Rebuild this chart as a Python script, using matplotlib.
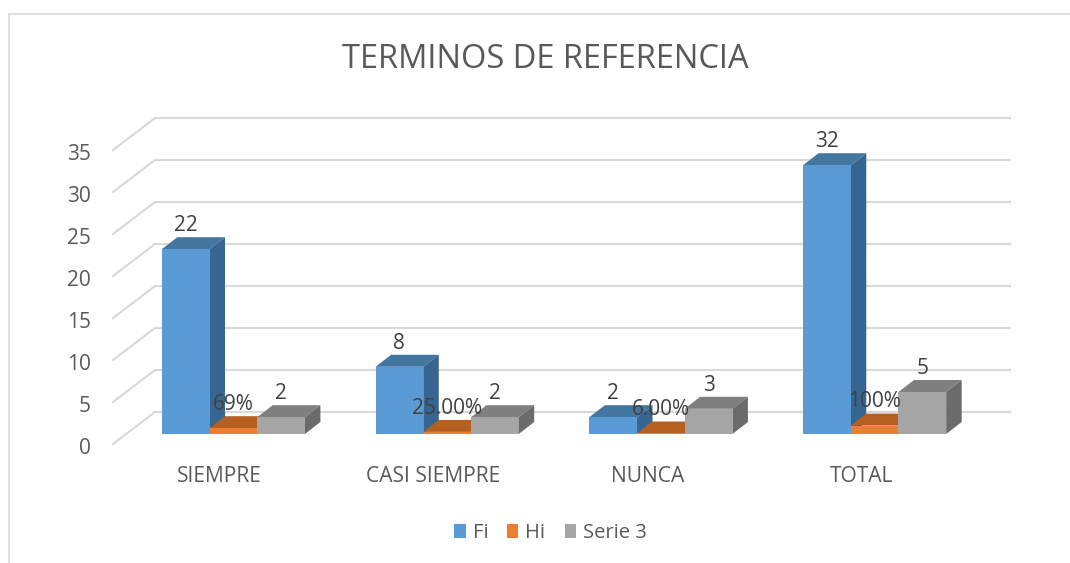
import matplotlib
matplotlib.use("Agg")
import matplotlib.pyplot as plt
from matplotlib.patches import Patch
from matplotlib.lines import Line2D
from matplotlib.transforms import ScaledTranslation

categories = ["SIEMPRE", "CASI SIEMPRE", "NUNCA", "TOTAL"]
fi = [22, 8, 2, 32]
hi = [0.69, 0.25, 0.06, 1.00]
serie3 = [2, 2, 3, 5]
fi_labels = ["22", "8", "2", "32"]
hi_labels = ["69%", "25.00%", "6.00%", "100%"]
serie3_labels = ["2", "2", "3", "5"]
series_names = ["Fi", "Hi", "Serie 3"]
y_ticks = [0, 5, 10, 15, 20, 25, 30, 35]
title = "TERMINOS DE REFERENCIA"

W, H = 1070, 563
plt.rcParams["font.family"] = ["Open Sans", "DejaVu Sans"]
fig = plt.figure(figsize=(W / 100, H / 100), dpi=100, facecolor="white")
L, R, B, T = 113, 968, 444, 150
ax = fig.add_axes([L / W, 1 - B / H, (R - L) / W, (B - T) / H])
ax.set_xlim(-0.5, 3.5)
ax.set_ylim(0, 35)
ax.patch.set_visible(False)
for s in ax.spines.values():
    s.set_visible(False)

PX = (R - L) / 4       # pixels per category
PY = (B - T) / 35      # pixels per unit
wall_dx, wall_dy = 42 / PX, 32 / PY
shift_x, shift_y = 13.5 / PX, 10 / PY
bar_w = 47.7 / PX
d_x, d_y = 15.5 / PX, 12 / PY

GRID = "#d9d9d9"
TXT = "#595959"
for v in y_ticks:
    ax.plot([-0.5, -0.5 + wall_dx, 3.5 + wall_dx], [v, v + wall_dy, v + wall_dy],
            color=GRID, lw=1.5, clip_on=False, zorder=1, solid_joinstyle="miter")

styles = [("#5b9bd5", "#44779f", "#376591"),
          ("#ed7d31", "#b55f20", "#a05219"),
          ("#a5a5a5", "#7f7f7f", "#6b6b6b")]
label_sets = [fi_labels, hi_labels, serie3_labels]
offsets = [-1, 0, 1]

z = 2
for i in range(len(categories)):
    for values, labels, (front, top, side), k in zip([fi, hi, serie3], label_sets, styles, offsets):
        v = values[i]
        x0 = i + shift_x + k * bar_w - bar_w / 2
        x1 = x0 + bar_w
        y0 = shift_y
        y1 = shift_y + v
        ax.fill([x0, x1, x1 + d_x, x0 + d_x], [y1, y1, y1 + d_y, y1 + d_y],
                color=top, lw=0, clip_on=False, zorder=z)
        ax.fill([x1, x1 + d_x, x1 + d_x, x1], [y0, y0 + d_y, y1 + d_y, y1],
                color=side, lw=0, clip_on=False, zorder=z)
        ax.bar(x0, v, bar_w, bottom=y0, align="edge", color=front, lw=0, clip_on=False, zorder=z + 0.5)
        z += 1

# data labels drawn on top
for i in range(len(categories)):
    for values, labels, k in zip([fi, hi, serie3], label_sets, offsets):
        xc = i + shift_x + k * bar_w
        ax.annotate(labels[i], (xc, shift_y + values[i]), xytext=(0, 17), textcoords="offset points",
                    ha="center", va="center", fontsize=15, color="#404040", zorder=100, annotation_clip=False)

ax.set_xticks(range(len(categories)))
ax.set_xticklabels(categories, fontsize=15.1, color=TXT)
ax.set_yticks(y_ticks)
ax.set_yticklabels([str(v) for v in y_ticks], fontsize=15, color=TXT)
ax.tick_params(axis="both", length=0)
ax.tick_params(axis="x", pad=16)
ax.tick_params(axis="y", pad=16)
nudge = ScaledTranslation(0, -1.5 / 100, fig.dpi_scale_trans)
for lab in ax.get_yticklabels():
    lab.set_transform(lab.get_transform() + nudge)

fig.text(545.5 / W, 1 - 59.5 / H, title, ha="center", va="center", fontsize=23.5, color=TXT)

# chart frame
fig.add_artist(Line2D([8.5 / W, 8.5 / W], [0, 1 - 13.5 / H], color=GRID, lw=1.2))
fig.add_artist(Line2D([8.5 / W, 1], [1 - 13.5 / H, 1 - 13.5 / H], color=GRID, lw=1.2))

handles = [Patch(color=s[0], lw=0) for s in styles]
fig.legend(handles, series_names, loc="center", bbox_to_anchor=(550.5 / W, 1 - 533 / H), ncol=3,
           frameon=False, fontsize=14.5, labelcolor=TXT, handlelength=0.55, handleheight=0.7,
           handletextpad=0.35, columnspacing=0.95)

fig.savefig("out.png", dpi=100, facecolor="white")
